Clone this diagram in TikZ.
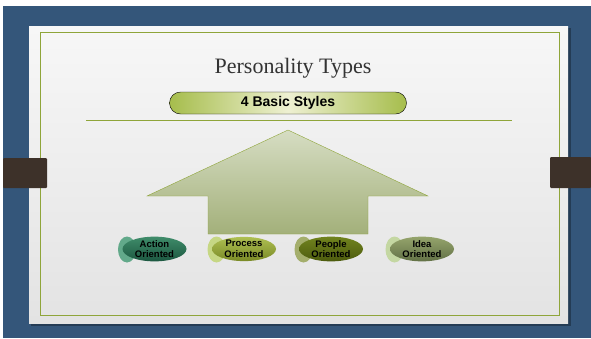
\documentclass[tikz,border=0pt]{standalone}
\usepackage{fontspec}
\setmainfont{Liberation Serif}
\setsansfont{Liberation Sans}
\usetikzlibrary{shapes.geometric}

\definecolor{slate}{HTML}{34567A}
\definecolor{tabbrown}{HTML}{3D3129}
\definecolor{olive}{HTML}{8FA53A}
\definecolor{pagetop}{HTML}{F7F7F7}
\definecolor{pagebot}{HTML}{E3E3E3}
\definecolor{bannerend}{HTML}{A6BD4C}
\definecolor{bannermid}{HTML}{EEF0D2}
\definecolor{arrowtop}{HTML}{D6DDC3}
\definecolor{arrowbot}{HTML}{A3B07A}
\definecolor{acttop}{HTML}{3F8C6A}
\definecolor{actbot}{HTML}{1C5740}
\definecolor{actback}{HTML}{62A98A}
\definecolor{proctop}{HTML}{AEBF52}
\definecolor{procbot}{HTML}{7A8A26}
\definecolor{procback}{HTML}{C6D784}
\definecolor{ppltop}{HTML}{71831E}
\definecolor{pplbot}{HTML}{4C5B0E}
\definecolor{pplback}{HTML}{A4AE6C}
\definecolor{ideatop}{HTML}{95A46C}
\definecolor{ideabot}{HTML}{627146}
\definecolor{ideaback}{HTML}{C4D7A2}

\tikzset{
  oval/.style={ellipse, inner sep=0pt, minimum width=64pt, minimum height=24pt,
    align=center, font=\sffamily\bfseries\fontsize{9.5}{10.5}\selectfont},
  tail/.style={ellipse, inner sep=0pt, minimum width=18pt, minimum height=26pt}
}

\begin{document}
\begin{tikzpicture}[x=1pt,y=-1pt]
            \useasboundingbox (0,0) rectangle (591,338);
            \fill[white] (0,0) rectangle (591,338);
            \fill[slate] (3,6) rectangle (591,338);

            % slide page, its shadow and the frame
            \fill[black,opacity=0.3] (31,28) rectangle (571,326);
            \shade[top color=pagetop,bottom color=pagebot] (29,26) rectangle (568,323);
            \draw[olive,line width=1pt] (40,32) rectangle (559,315);
            \fill[tabbrown,rounded corners=1pt] (3,158) rectangle (47,188);
            \fill[tabbrown,rounded corners=1pt] (550,157) rectangle (591,188);

            \node (title) at (293,68) [text=black!80,font=\fontsize{22}{26}\selectfont] {Personality Types};
            \node (banner) at (288,103) [draw,thin,rounded corners=11pt,minimum width=237pt,minimum height=22pt,
                left color=bannerend,right color=bannerend,middle color=bannermid,
                font=\sffamily\bfseries\fontsize{14}{16}\selectfont] {4 Basic Styles};
            \draw[olive,line width=1pt] (86,120) -- (512,120);

            % big arrow
            \draw[olive,top color=arrowtop,bottom color=arrowbot]
                (288,130) -- (428,196) -- (368,196) -- (368,234) -- (208,234) -- (208,196) -- (147,196) -- cycle;

            \begin{scope}
                \node (actb)[tail,fill=actback] at (127,249.5) {};
                \node (act)[oval,top color=acttop,bottom color=actbot] at (154.5,249) {Action\\Oriented};
                \node (procb)[tail,fill=procback] at (216.5,249.5) {};
                \node (proc)[oval,top color=proctop,bottom color=procbot] at (244,249) {Process\\Oriented};
                \node (pplb)[tail,fill=pplback] at (303.5,249.5) {};
                \node (ppl)[oval,top color=ppltop,bottom color=pplbot] at (331,249) {People\\Oriented};
                \node (ideab)[tail,fill=ideaback] at (394.5,249.5) {};
                \node (idea)[oval,top color=ideatop,bottom color=ideabot] at (422,249) {Idea\\Oriented};
            \end{scope}
\end{tikzpicture}
\end{document}
